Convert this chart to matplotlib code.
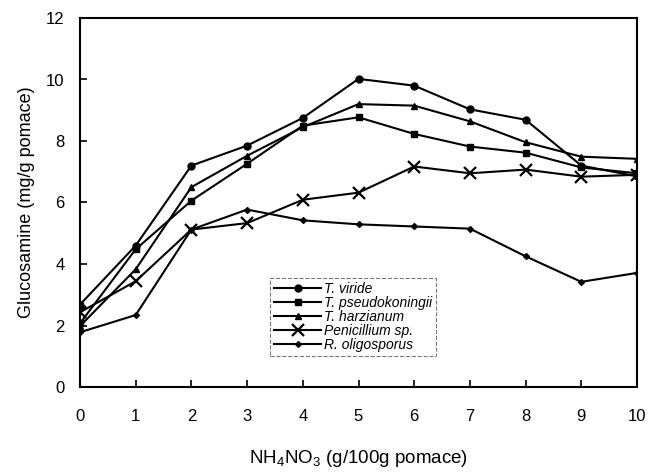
import matplotlib
matplotlib.use("Agg")
import matplotlib.pyplot as plt

plt.rcParams["font.family"] = ["Liberation Sans", "DejaVu Sans"]
plt.rcParams["mathtext.default"] = "regular"

nh4no3 = [0, 1, 2, 3, 4, 5, 6, 7, 8, 9, 10]
t_viride = [2.68, 4.6, 7.2, 7.85, 8.75, 10.02, 9.8, 9.03, 8.69, 7.2, 6.85]
t_pseudokoningii = [2.07, 4.48, 6.06, 7.26, 8.5, 8.77, 8.23, 7.82, 7.62, 7.14, 6.95]
t_harzianum = [1.98, 3.83, 6.5, 7.52, 8.45, 9.2, 9.15, 8.64, 7.96, 7.49, 7.42]
penicillium = [2.43, 3.44, 5.12, 5.33, 6.09, 6.32, 7.17, 6.95, 7.07, 6.84, 6.9]
r_oligosporus = [1.78, 2.34, 5.12, 5.77, 5.42, 5.29, 5.22, 5.15, 4.25, 3.42, 3.71]

series = [
    ("T. viride", t_viride, "o", 5, 1),
    ("T. pseudokoningii", t_pseudokoningii, "s", 5, 1),
    ("T. harzianum", t_harzianum, "^", 4.5, 1),
    ("Penicillium sp.", penicillium, "x", 9, 1.6),
    ("R. oligosporus", r_oligosporus, "D", 3, 1),
]

fig = plt.figure(figsize=(6.58, 4.73), dpi=100)
ax = fig.add_axes([80 / 658, 86 / 473, 557 / 658, 369 / 473])

for label, values, marker, ms, mew in series:
    ax.plot(nh4no3, values, color="black", linewidth=1.5, marker=marker,
            markersize=ms, markeredgewidth=mew, label=label)

ax.set_xlim(0, 10)
ax.set_ylim(0, 12)
ax.set_xticks(range(0, 11))
ax.set_yticks(range(0, 13, 2))
ax.tick_params(direction="in", length=5, width=1.2, labelsize=12)
ax.tick_params(axis="x", pad=16)
ax.tick_params(axis="y", pad=11)
for sp in ax.spines.values():
    sp.set_linewidth(1.5)

ax.set_xlabel("NH$_4$NO$_3$ (g/100g pomace)", fontsize=13.5, labelpad=17)
ax.set_ylabel("Glucosamine (mg/g pomace)", fontsize=13, labelpad=8)

leg = ax.legend(loc="upper left", bbox_to_anchor=(270 / 658, 1 - 278 / 473),
                bbox_transform=fig.transFigure, prop={"style": "italic", "size": 10},
                frameon=True, fancybox=False, labelspacing=0.0, handlelength=3.4,
                handletextpad=0.2, borderpad=0.3, borderaxespad=0)
frame = leg.get_frame()
frame.set_edgecolor("#555555")
frame.set_linestyle("--")
frame.set_linewidth(0.8)

fig.savefig("out.png", dpi=100)
